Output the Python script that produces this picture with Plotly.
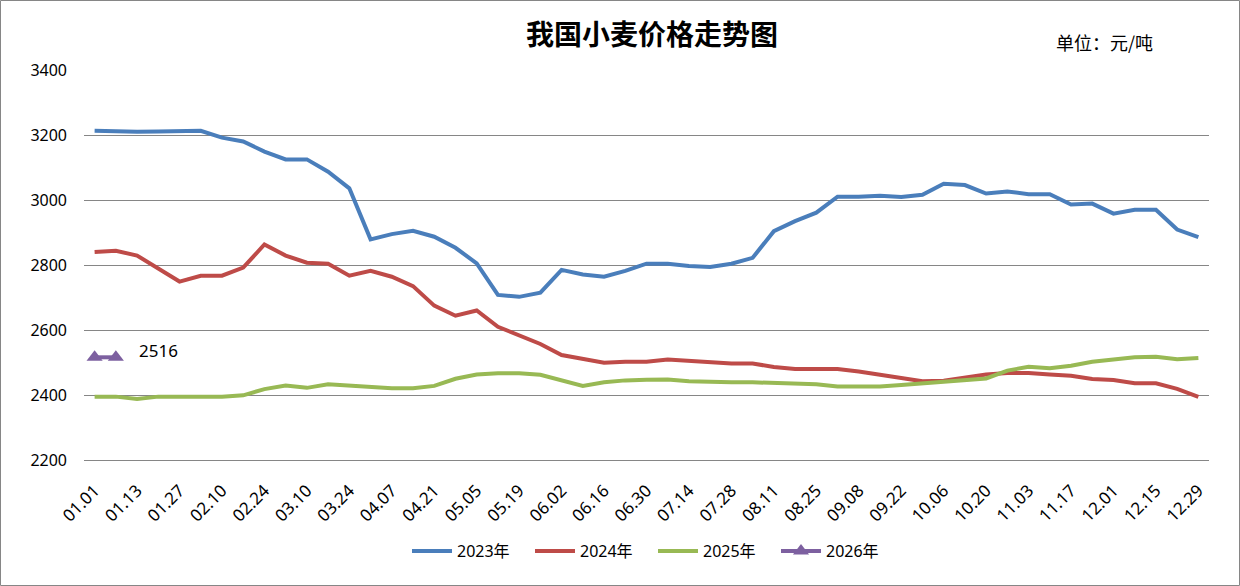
import plotly.graph_objects as go

dates = ["01.01", "01.06", "01.13", "01.20", "01.27", "02.03", "02.10", "02.17", "02.24", "03.03",
         "03.10", "03.17", "03.24", "03.31", "04.07", "04.14", "04.21", "04.28", "05.05", "05.12",
         "05.19", "05.26", "06.02", "06.09", "06.16", "06.23", "06.30", "07.07", "07.14", "07.21",
         "07.28", "08.04", "08.11", "08.18", "08.25", "09.01", "09.08", "09.15", "09.22", "09.29",
         "10.06", "10.13", "10.20", "10.27", "11.03", "11.10", "11.17", "11.24", "12.01", "12.08",
         "12.15", "12.22", "12.29"]

y2023 = [3213, 3210, 3210, 3211, 3211, 3213, 3192, 3180, 3149, 3125,
         3125, 3087, 3036, 2879, 2895, 2905, 2887, 2853, 2805, 2708,
         2702, 2715, 2785, 2771, 2764, 2782, 2804, 2804, 2797, 2794,
         2804, 2822, 2904, 2935, 2961, 3010, 3010, 3013, 3009, 3016,
         3050, 3046, 3020, 3026, 3018, 3018, 2986, 2989, 2958, 2970,
         2970, 2909, 2886]

y2024 = [2840, 2844, 2829, 2790, 2749, 2767, 2767, 2792, 2863, 2829,
         2807, 2804, 2767, 2782, 2764, 2735, 2675, 2644, 2660, 2610,
         2584, 2557, 2523, 2510, 2499, 2502, 2502, 2509, 2505, 2499,
         2497, 2497, 2486, 2480, 2480, 2480, 2472, 2462, 2455, 2442,
         2444, 2453, 2463, 2468, 2468, 2463, 2459, 2449, 2446, 2436,
         2436, 2419, 2394]

y2025 = [2395, 2395, 2388, 2395, 2395, 2395, 2395, 2399, 2418, 2429,
         2422, 2433, 2429, 2423, 2421, 2421, 2428, 2450, 2463, 2467,
         2467, 2462, 2444, 2428, 2439, 2445, 2447, 2448, 2442, 2439,
         2439, 2439, 2436, 2436, 2433, 2426, 2426, 2426, 2431, 2436,
         2441, 2443, 2451, 2475, 2487, 2482, 2490, 2502, 2509, 2516,
         2518, 2510, 2514]

y2026 = [2516, 2516]

series_names = ["2023年", "2024年", "2025年", "2026年"]
colors = ["#4A7EBB", "#BE4B48", "#98B954", "#7D60A0"]

font_main = "Noto Sans, Noto Sans CJK SC, sans-serif"

fig = go.Figure()
for name, ys, c in zip(series_names[:3], [y2023, y2024, y2025], colors[:3]):
    fig.add_trace(go.Scatter(x=dates[:len(ys)], y=ys, name=name, mode="lines",
                             line=dict(color=c, width=4)))
fig.add_trace(go.Scatter(x=dates[:len(y2026)], y=y2026, name=series_names[3], mode="lines+markers",
                         line=dict(color=colors[3], width=4),
                         marker=dict(symbol="triangle-up", size=14, color=colors[3])))

fig.add_annotation(x=dates[len(y2026) - 1], y=y2026[-1], text=str(y2026[-1]), showarrow=False,
                   xanchor="left", yanchor="middle", xshift=20, yshift=7,
                   font=dict(size=17, color="#000000", family=font_main))

W, H = 1240, 586
ml, mr, mt, mb = 84, 31, 70, 126
pw, ph = W - ml - mr, H - mt - mb

fig.add_annotation(xref="paper", yref="paper", x=(652 - ml) / pw, y=(H - mb - 33) / ph,
                   text="我国小麦价格走势图", showarrow=False, xanchor="center", yanchor="middle",
                   font=dict(size=28, color="#000000", family="Noto Sans CJK SC", weight=600))
fig.add_annotation(xref="paper", yref="paper", x=(1104 - ml) / pw, y=(H - mb - 42) / ph,
                   text="单位：元/吨", showarrow=False, xanchor="center", yanchor="middle",
                   font=dict(size=18, color="#000000", family="Noto Sans CJK SC"))

fig.add_shape(type="rect", xref="paper", yref="paper",
              x0=(0.5 - ml) / pw, x1=(W - 0.5 - ml) / pw,
              y0=(0.5 - mb) / ph, y1=(H - mb - 0.5) / ph,
              line=dict(color="#868686", width=1), fillcolor="rgba(0,0,0,0)", layer="below")

fig.update_layout(
    width=W, height=H,
    margin=dict(l=ml, r=mr, t=mt, b=mb),
    paper_bgcolor="white", plot_bgcolor="white",
    font=dict(family=font_main, size=16, color="#000000"),
    showlegend=True,
    legend=dict(orientation="h", x=(653 - ml) / pw, xanchor="center",
                y=(H - mb - 551) / ph, yanchor="middle",
                font=dict(size=16, family=font_main), entrywidth=68, entrywidthmode="pixels",
                itemwidth=40, traceorder="normal"),
)
fig.update_xaxes(type="category", categoryorder="array", categoryarray=dates,
                 range=[-0.5, len(dates) - 0.5], tickmode="array", tickvals=dates[::2],
                 tickangle=-45, showgrid=False, showline=True, linecolor="#868686", linewidth=1,
                 ticks="", tickfont=dict(size=17, family=font_main), ticklabelstandoff=13)
fig.update_yaxes(range=[2200, 3400], dtick=200, tick0=2200, showgrid=True, gridcolor="#868686",
                 gridwidth=1, zeroline=False, showline=False, ticks="",
                 tickfont=dict(size=16, family=font_main), ticklabelstandoff=16)

fig.write_html("out.html", config={"displayModeBar": False},
               post_script="document.body.style.margin='0';document.body.style.overflow='hidden';")
